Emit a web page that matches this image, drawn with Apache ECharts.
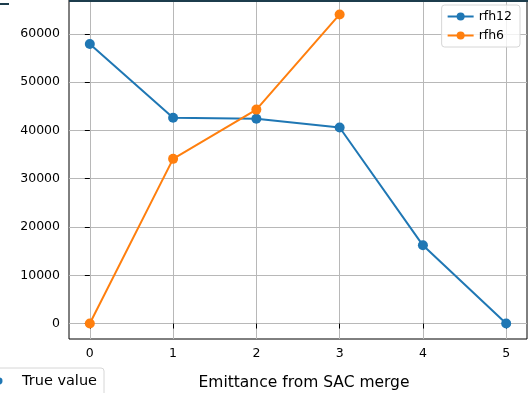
<!DOCTYPE html>
<html>
<head>
<meta charset="utf-8">
<script src="https://cdn.jsdelivr.net/npm/echarts@6/dist/echarts.min.js"></script>
<style>
  html, body { margin: 0; padding: 0; background: #fff; }
  #chart { width: 529px; height: 393px; }
</style>
</head>
<body>
<div id="chart"></div>
<script>
// Emittance merge index vs. count, one line per run
const xValues = [0, 1, 2, 3, 4, 5];
const rfh12 = [57900, 42600, 42400, 40600, 16200, 0];
const rfh6 = [0, 34100, 44300, 64000];
const xTicks = [0, 1, 2, 3, 4, 5];
const yTicks = [0, 10000, 20000, 30000, 40000, 50000, 60000];

const font = 'DejaVu Sans';
const chart = echarts.init(document.getElementById('chart'), null, { renderer: 'canvas' });

function pairs(xs, ys) {
  return ys.map((y, i) => [xs[i], y]);
}

chart.setOption({
  animation: false,
  backgroundColor: '#fff',
  grid: {
    left: 69, right: 2, top: -1, bottom: 54,
    outerBoundsMode: 'none', containLabel: false,
    show: true, borderColor: '#000', borderWidth: 1, backgroundColor: 'transparent'
  },
  legend: {
    right: 9, top: 5,
    orient: 'vertical',
    itemWidth: 26, itemHeight: 10, itemGap: 6,
    padding: [5, 8, 5, 5],
    backgroundColor: 'rgba(255,255,255,0.8)',
    borderColor: '#d6d6d6', borderWidth: 1, borderRadius: 3,
    textStyle: { fontFamily: font, fontSize: 12.5, color: '#000' },
    data: ['rfh12', 'rfh6']
  },
  xAxis: {
    type: 'value',
    min: -0.25, max: 5.25,
    name: 'Emittance from SAC merge',
    nameLocation: 'middle', nameGap: 36,
    nameTextStyle: { fontFamily: font, fontSize: 15.5, color: '#000', padding: [0, 0, 0, 12] },
    axisLine: { show: false },
    axisTick: { show: true, customValues: xTicks, length: 5, lineStyle: { color: '#000' } },
    axisLabel: { customValues: xTicks, fontFamily: font, fontSize: 12.5, color: '#000', margin: 8,
      formatter: v => String(v) },
    splitLine: { show: true, lineStyle: { color: '#b8b8b8', width: 1 } }
  },
  yAxis: {
    type: 'value',
    min: -3200, max: 67200,
    axisLine: { show: false },
    axisTick: { show: true, customValues: yTicks, length: 5, lineStyle: { color: '#000' } },
    axisLabel: { customValues: yTicks, fontFamily: font, fontSize: 12.5, color: '#000', margin: 9,
      formatter: v => String(v) },
    splitLine: { show: true, lineStyle: { color: '#b8b8b8', width: 1 } }
  },
  series: [
    {
      name: 'rfh12', type: 'line', data: pairs(xValues, rfh12),
      color: '#1f77b4', symbol: 'circle', symbolSize: 10,
      lineStyle: { width: 2 }, itemStyle: { color: '#1f77b4' }
    },
    {
      name: 'rfh6', type: 'line', data: pairs(xValues, rfh6),
      color: '#ff7f0e', symbol: 'circle', symbolSize: 10,
      lineStyle: { width: 2 }, itemStyle: { color: '#ff7f0e' }
    }
  ],
  graphic: [
    // dark edge along the top of the plot
    { type: 'rect', shape: { x: 69, y: 0, width: 459, height: 2 }, style: { fill: '#1c3c4c' }, z: 10 },
    { type: 'rect', shape: { x: 0, y: 3, width: 9, height: 2 }, style: { fill: '#1c3c4c' }, z: 10 },
    // neighbouring legend box at the bottom left
    { type: 'rect', shape: { x: -6, y: 368, width: 110, height: 40, r: 3 },
      style: { fill: '#fff', stroke: '#d6d6d6', lineWidth: 1 }, z: 10 },
    { type: 'circle', shape: { cx: -1, cy: 381, r: 3.5 }, style: { fill: '#1f77b4' }, z: 11 },
    { type: 'text', x: 22, y: 374,
      style: { text: 'True value', fontFamily: font, fontSize: 14.5, fill: '#000' }, z: 11 }
  ]
});
</script>
</body>
</html>
